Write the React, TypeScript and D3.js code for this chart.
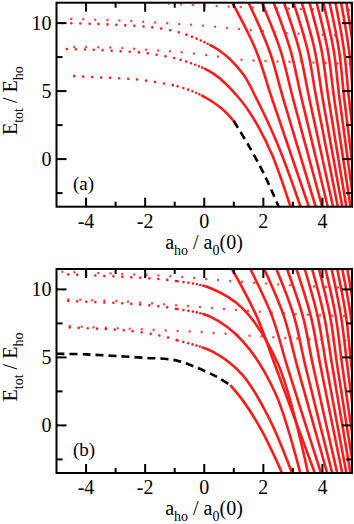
import * as d3 from "d3";
import React from "react";

type Pt = [number, number];

// axis ticks
const xMajor = [-4, -2, 0, 2, 4];
const xMinor = [-3, -1, 1, 3];
const yMajor = [0, 5, 10];
const yMinor = [-2.5, 2.5, 7.5];

// ---- panel (a) ----
const aLevel6: Pt[] = [[-4.4, 6.1], [-3.5, 6.0], [-2.5, 5.9], [-1.6, 5.65], [-0.9, 5.35]];
const aCurve1: Pt[] = [[-0.9, 5.35], [-0.3, 4.9], [0.14, 4.4], [0.6, 3.7], [1.0, 2.8]];
const aBound: Pt[] = [[1.0, 2.8], [1.5, 1.0], [2.0, -1.0], [2.52, -3.5]];
const aLevel8lo: Pt[] = [[-4.65, 8.1], [-3.9, 8.05], [-3.0, 7.95], [-2.0, 7.8], [-1.3, 7.55], [-0.8, 7.3]];
const aCurve2: Pt[] = [[-0.8, 7.3], [0.3, 6.3], [1.21, 4.4], [1.8, 2.5], [2.3, 0.3], [2.92, -3.5]];
const aLevel8hi: Pt[] = [[-4.4, 8.25], [-3.0, 8.2], [-2.0, 8.05], [-1.0, 7.9], [0.3, 7.6], [1.3, 7.3], [3.0, 7.15], [5.0, 7.0]];
const aLevel10lo: Pt[] = [[-4.8, 10.0], [-3.8, 9.95], [-2.8, 9.85], [-1.8, 9.7], [-1.1, 9.45], [-0.6, 9.15]];
const aCurve3: Pt[] = [[-0.6, 9.15], [0.5, 8.0], [1.3, 6.3], [1.78, 4.4], [2.5, 1.0], [3.26, -3.5]];
const aLevel10hi: Pt[] = [[-4.5, 10.3], [-3.0, 10.2], [-2.0, 10.1], [-1.0, 9.95], [0.0, 9.8], [1.5, 9.5], [3.0, 9.25], [5.0, 9.05]];
const aLevel11: Pt[] = [[-1.6, 11.5], [-0.5, 11.35], [1.0, 11.2], [3.0, 11.05], [5.0, 10.95]];
// steep branches: x where they cross E = 11.5, 8, 4.4 and -3.5
const aTopX = [0.95, 1.5, 1.95, 2.35, 2.7, 3.02, 3.3, 3.56, 3.8, 4.03, 4.24, 4.44, 4.63, 4.81, 4.98];
const aUpX = [1.75, 2.2, 2.58, 2.92, 3.22, 3.5, 3.74, 3.97, 4.18, 4.38, 4.56, 4.73, 4.9, 5.05, 5.2];
const aMidX = [2.3, 2.68, 3.01, 3.3, 3.56, 3.8, 4.01, 4.21, 4.4, 4.58, 4.74, 4.9, 5.05, 5.18, 5.32];
const aBotX = [3.54, 3.77, 3.99, 4.18, 4.36, 4.52, 4.67, 4.81, 4.95, 5.08, 5.2, 5.32, 5.43, 5.53, 5.63];

// ---- panel (b) ----
const bBound: Pt[] = [[-5, 5.27], [-4, 5.22], [-3, 5.1], [-2, 4.97], [-1, 4.8], [-0.25, 4.25], [0.43, 3.56], [0.88, 2.96]];
const bCurve1: Pt[] = [[0.88, 2.96], [1.34, 1.73], [1.9, -0.2], [2.46, -2.66], [2.63, -3.5]];
const bLevel7lo: Pt[] = [[-4.55, 7.2], [-3.5, 7.1], [-2.5, 6.95], [-1.5, 6.6], [-0.9, 6.25]];
const bCurve2: Pt[] = [[-0.9, 6.25], [0.3, 5.4], [1.3, 3.7], [2.2, 0.5], [2.97, -3.5]];
const bLevel7hi: Pt[] = [[-4.55, 7.3], [-3.0, 7.15], [-1.5, 7.0], [0.0, 6.85], [1.5, 6.6], [3.0, 6.4], [5.0, 6.2]];
const bLevel9lo: Pt[] = [[-4.6, 9.15], [-3.5, 9.05], [-2.5, 8.95], [-1.5, 8.75], [-0.9, 8.55]];
const bCurve3: Pt[] = [[-0.9, 8.55], [0.2, 8.0], [1.3, 6.2], [2.4, 2.4], [3.25, -3.5]];
const bLevel9hi: Pt[] = [[-4.6, 9.25], [-3.0, 9.15], [-1.0, 8.85], [1.0, 8.5], [3.0, 8.2], [5.0, 8.0]];
const bLevel11lo: Pt[] = [[-4.6, 11.1], [-3.5, 11.0], [-2.5, 10.9], [-1.5, 10.75], [-0.9, 10.6]];
const bCurve4: Pt[] = [[-0.9, 10.6], [0.2, 10.1], [1.3, 8.6], [2.5, 4.5], [3.51, -3.5]];
const bLevel11hi: Pt[] = [[-4.8, 11.3], [-3.0, 11.15], [-1.0, 10.95], [1.0, 10.6], [3.0, 10.3], [5.0, 10.1]];
const bTopX = [0.94, 1.56, 2.03, 2.44, 2.8, 3.12, 3.4, 3.65, 3.88, 4.1, 4.31, 4.5, 4.67, 4.84, 4.99];
const bUpX = [1.78, 2.3, 2.7, 3.04, 3.34, 3.61, 3.84, 4.06, 4.26, 4.45, 4.63, 4.8, 4.96, 5.1, 5.24];
const bMidX = [2.4, 2.8, 3.14, 3.42, 3.68, 3.93, 4.13, 4.33, 4.5, 4.67, 4.84, 4.98, 5.12, 5.25, 5.37];
const bBotX = [3.74, 3.95, 4.16, 4.33, 4.5, 4.67, 4.81, 4.95, 5.08, 5.2, 5.32, 5.43, 5.53, 5.63, 5.73];

const steepE = [11.5, 8, 4.4, -3.5];

const RED = "#ff1a1a";
const FONT = "Liberation Serif";
// dots getting denser, then a solid line
const RAMP = "0 6 0 5 0 4.5 0 4 0 3.5 0 3 4000 0";
const GAP = 9;

const xScale = d3.scaleLinear().domain([-5, 5]).range([56.5, 352]);

type PanelProps = {
  top: number;
  label: string;
  id: string;
  branches: [Pt[], Pt[]][];
  sparseFar: Pt[][];
  lowest: Pt[];
  bound: Pt[];
  topX: number[];
  upX: number[];
  midX: number[];
  botX: number[];
};

function Panel({ top, label, id, branches, sparseFar, lowest, bound, topX, upX, midX, botX }: PanelProps) {
  const yScale = d3.scaleLinear().domain([-3.5, 11.5]).range([top + 204, top]);
  const line = d3
    .line<Pt>()
    .x((d) => xScale(d[0]))
    .y((d) => yScale(d[1]))
    .curve(d3.curveCatmullRom.alpha(0.5));
  const steep: Pt[][] = topX.map((t, i) => [
    [t, steepE[0]],
    [upX[i], steepE[1]],
    [midX[i], steepE[2]],
    [botX[i], steepE[3]],
  ]);
  // one path per branch: sparse dots along the flat part, then solid
  const joined = branches.map(([flat, steepPart]) => {
    let len = 0;
    for (let i = 1; i < flat.length; i++) {
      len += Math.hypot(
        xScale(flat[i][0]) - xScale(flat[i - 1][0]),
        yScale(flat[i][1]) - yScale(flat[i - 1][1])
      );
    }
    const n = Math.floor(len / GAP);
    const rest = len - n * GAP;
    const dash = Array(n).fill(`0 ${GAP}`).join(" ") + ` 0 ${rest.toFixed(2)} ` + RAMP;
    return { d: line(flat.concat(steepPart.slice(1))) || "", dash };
  });
  const [x0, x1] = xScale.range();
  const [y0, y1] = [yScale(-3.5), yScale(11.5)];

  return (
    <g>
      <clipPath id={id}>
        <rect x={x0} y={y1} width={x1 - x0} height={y0 - y1} />
      </clipPath>
      <g clipPath={`url(#${id})`} fill="none">
        {sparseFar.map((d, i) => (
          <path key={"f" + i} d={line(d) || ""} stroke={RED} strokeWidth={2.5} strokeLinecap="round" strokeDasharray="0 12" opacity={0.8} />
        ))}
        {joined.map((b, i) => (
          <path key={"c" + i} d={b.d} stroke={RED} strokeWidth={2.6} strokeLinecap="round" strokeDasharray={b.dash} />
        ))}
        {steep.map((d, i) => (
          <path key={"t" + i} d={line(d) || ""} stroke={RED} strokeWidth={2.6} />
        ))}
        <path d={line(lowest) || ""} stroke={RED} strokeWidth={2.6} />
        <path d={line(bound) || ""} stroke="#000" strokeWidth={2.6} strokeDasharray="8 5" />
      </g>
      {/* ticks on all four sides */}
      <g stroke="#000" strokeWidth={2}>
        {xMajor.map((v) => (
          <g key={"xM" + v}>
            <line x1={xScale(v)} x2={xScale(v)} y1={y0} y2={y0 - 9} />
            <line x1={xScale(v)} x2={xScale(v)} y1={y1} y2={y1 + 9} />
          </g>
        ))}
        {xMinor.map((v) => (
          <g key={"xm" + v}>
            <line x1={xScale(v)} x2={xScale(v)} y1={y0} y2={y0 - 5} />
            <line x1={xScale(v)} x2={xScale(v)} y1={y1} y2={y1 + 5} />
          </g>
        ))}
        {yMajor.map((v) => (
          <g key={"yM" + v}>
            <line x1={x0} x2={x0 + 10} y1={yScale(v)} y2={yScale(v)} />
            <line x1={x1} x2={x1 - 10} y1={yScale(v)} y2={yScale(v)} />
          </g>
        ))}
        {yMinor.map((v) => (
          <g key={"ym" + v}>
            <line x1={x0} x2={x0 + 6} y1={yScale(v)} y2={yScale(v)} />
            <line x1={x1} x2={x1 - 6} y1={yScale(v)} y2={yScale(v)} />
          </g>
        ))}
        <rect x={x0} y={y1} width={x1 - x0} height={y0 - y1} fill="none" />
      </g>
      <g fill="#000">
        {xMajor.map((v) => (
          <text key={"xl" + v} x={xScale(v)} y={y0 + 21} textAnchor="middle" fontFamily={FONT} fontSize={20}>
            {v < 0 ? "-" + Math.abs(v) : v}
          </text>
        ))}
        {yMajor.map((v) => (
          <text key={"yl" + v} x={x0 - 5} y={yScale(v) + 7} textAnchor="end" fontFamily={FONT} fontSize={20}>
            {v}
          </text>
        ))}
        <text x={204} y={y0 + 42} textAnchor="middle" fontFamily={FONT} fontSize={20}>
          <tspan>a</tspan>
          <tspan dy={6} fontSize={14}>ho</tspan>
          <tspan dy={-6}> / a</tspan>
          <tspan dy={6} fontSize={14}>0</tspan>
          <tspan dy={-6}>(0)</tspan>
        </text>
        <text transform={`translate(17,${top + 98}) rotate(-90)`} textAnchor="middle" fontFamily={FONT} fontSize={20}>
          <tspan>E</tspan>
          <tspan dy={6} fontSize={14}>tot</tspan>
          <tspan dy={-6}> / E</tspan>
          <tspan dy={6} fontSize={14}>ho</tspan>
        </text>
        <text x={73} y={top + 187} fontFamily={FONT} fontSize={19}>
          {label}
        </text>
      </g>
    </g>
  );
}

export default function App() {
  return (
    <svg width={354} height={524} style={{ position: "absolute", left: 0, top: 0, background: "#fff" }}>
      <Panel
        top={2.7}
        id="clipA"
        label="(a)"
        branches={[
          [aLevel6, aCurve1],
          [aLevel8lo, aCurve2],
          [aLevel10lo, aCurve3],
        ]}
        sparseFar={[aLevel8hi, aLevel10hi, aLevel11]}
        lowest={[]}
        bound={aBound}
        topX={aTopX}
        upX={aUpX}
        midX={aMidX}
        botX={aBotX}
      />
      <Panel
        top={269}
        id="clipB"
        label="(b)"
        branches={[
          [bLevel7lo, bCurve2],
          [bLevel9lo, bCurve3],
          [bLevel11lo, bCurve4],
        ]}
        sparseFar={[bLevel7hi, bLevel9hi, bLevel11hi]}
        lowest={bCurve1}
        bound={bBound}
        topX={bTopX}
        upX={bUpX}
        midX={bMidX}
        botX={bBotX}
      />
    </svg>
  );
}
